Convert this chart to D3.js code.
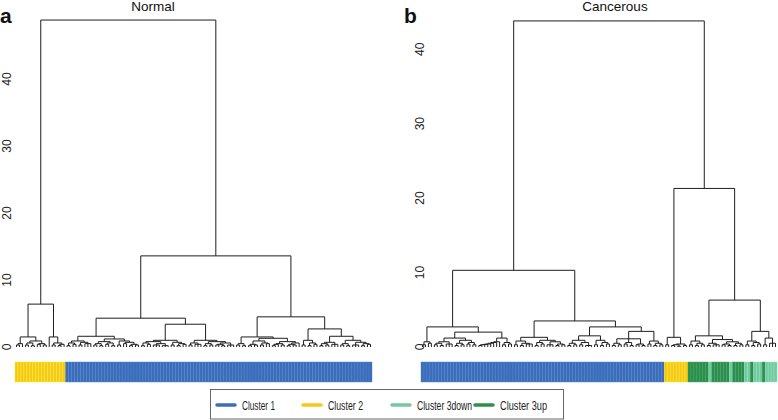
<!DOCTYPE html>
<html>
<head>
<meta charset="utf-8">
<script src="https://cdn.jsdelivr.net/npm/d3@7"></script>
<style>
body{margin:0;background:#fff;}
svg{display:block;font-family:"Liberation Sans",Arial,Helvetica,sans-serif;}
</style>
</head>
<body>
<svg width="778" height="420"></svg>
<script>
var panelTitles = ['Normal', 'Cancerous'];
var panelLetters = ['a', 'b'];
var yTicks = [0, 10, 20, 30, 40];
var legendLabels = ['Cluster 1', 'Cluster 2', 'Cluster 3down', 'Cluster 3up'];
var clusterColors = ['#3d6db6', '#f5c91c', '#76c8a0', '#2f8d4f'];

// trees: "(" children ")" merge height, "*" is one sample
var normalTree = `
(
  (
    ( ((**)0.3*)0.5
      (((**)0.3(**)0.2)0.6((**)0.4(**)0.3)0.5)0.9
    )1.5
    ( *
      ((**)0.3((**)0.2*)0.4)0.6
    )1.5
  )6.4
  (
    (
      (
        (((**)0.2(**)0.4)0.6((**)0.3(***)0.5)0.7)0.9
        (
          (((**)0.3(**)0.2)0.5((**)0.4(**)0.2)0.6)0.8
          ((**)0.3((**)0.5((**)0.2(**)0.3)0.4)0.7)0.9
        )1.2
      )1.6
      (
        (
          (((**)0.2(**)0.4)0.6((***)0.3(***)0.2)0.5)0.8
          ((**)0.3((**)0.2(**)0.4)0.5)0.7
        )1.0
        (
          ((**)0.3(***)0.4)0.6
          (((**)0.2(**)0.3)0.5(((**)0.3(**)0.2)0.4(***)0.3)0.6)0.8
        )1.0
      )3.4
    )4.3
    (
      (
        ((**)0.3(**)0.2)0.5
        (
          (((**)0.2(**)0.3)0.4((**)0.3(**)0.5)0.6)0.9
          ((((**)0.2*)0.4(**)0.3)0.5(((**)0.2(**)0.3)0.4*)0.6)0.8
        )1.3
      )1.5
      (
        ((**)0.3((**)0.2(**)0.4)0.6)1.0
        (
          (((**)0.2(**)0.3)0.5(***)0.4)0.7
          (((**)0.3(**)0.2)0.5((***)0.3((**)0.2(**)0.4)0.5)0.7)1.0
        )1.6
      )2.7
    )4.5
  )13.6
)48.8`;

var cancerTree = `
(
  (
    (
      ((**)0.3(**)0.5)0.7
      (
        (
          (((**)0.3(**)0.2)0.5(***)0.4)0.7
          (((**)0.2(**)0.3)0.5((**)0.4(**)0.3)0.6)0.9
        )1.2
        (
          (((((((**)0.2*)0.3*)0.35*)0.4*)0.5*)0.6*)0.7
          ((**)0.3(**)0.4)0.6
        )1.2
      )2.0
    )2.7
    (
      (
        ((**)0.3((**)0.2(***)0.4)0.5)0.8
        (((**)0.2(**)0.4)0.6((***)0.3((**)0.2(**)0.3)0.4)0.7)0.9
      )1.3
      (
        (
          (((**)0.2(**)0.3)0.5((**)0.3(***)0.2)0.6)0.9
          ((**)0.3((**)0.2(**)0.4)0.6)0.9
        )1.5
        (
          (((**)0.2(**)0.3)0.5((**)0.4(**)0.2)0.6((**)0.3(**)0.2)0.4)1.1
          ((**)0.4((**)0.2(**)0.3)0.5)0.8
        )2.1
      )2.7
    )3.5
  )10.3
  (
    ((**)0.3(((**)0.2(**)0.1)0.3(**)0.2)0.4)1.3
    (
      (
        ((**)0.3((**)0.2(**)0.3)0.5)0.8
        (((**)0.2(***)0.3)0.5(((**)0.3(**)0.2)0.4((**)0.2(**)0.3)0.5)0.7)1.0
      )1.5
      (
        ((**)0.3((**)0.2(**)0.4)0.6)0.8
        ((**)0.3(***)0.5)1.2
      )2.1
    )6.3
  )21.3
)43.8`;

// cluster of the samples, left to right: [cluster index, count]
var normalRuns = [[1, 17], [0, 103]];
var cancerRuns = [[0, 82], [1, 8], [3, 7], [2, 1], [3, 6], [2, 1], [3, 4], [2, 2], [3, 1], [2, 3], [3, 1], [2, 4]];

function parseTree(str) {
  var s = str.replace(/\s+/g, '');
  var i = 0;
  function node() {
    if (s[i] === '*') { i++; return {h: 0}; }
    i++;
    var kids = [];
    while (s[i] !== ')') kids.push(node());
    i++;
    var m = /^\d+(\.\d+)?/.exec(s.slice(i));
    i += m[0].length;
    return {h: +m[0], children: kids};
  }
  return node();
}

var svg = d3.select('svg');

var panels = [
  {title: panelTitles[0], letter: panelLetters[0], tree: normalTree, runs: normalRuns,
   yMax: 50, left: 15, right: 372, labelX: 11, letterX: 0, titleX: 153},
  {title: panelTitles[1], letter: panelLetters[1], tree: cancerTree, runs: cancerRuns,
   yMax: 45, left: 421, right: 777, labelX: 424, letterX: 404, titleX: 615}
];

panels.forEach(drawPanel);

function drawPanel(p) {
  var g = svg.append('g');
  var root = d3.hierarchy(parseTree(p.tree));
  var leaves = root.leaves();
  var x = d3.scaleBand().domain(d3.range(leaves.length)).range([p.left, p.right]);
  var y = d3.scaleLinear().domain([0, p.yMax]).range([347, 12]);

  leaves.forEach(function (d, i) { d.x = x(i) + x.bandwidth() / 2; });
  root.eachAfter(function (d) {
    if (d.children) d.x = (d.children[0].x + d.children[d.children.length - 1].x) / 2;
  });

  g.selectAll('path.merge')
    .data(root.descendants().filter(d => d.children))
    .join('path')
    .classed('merge', true)
    .attr('fill', 'none')
    .attr('stroke', '#1e1e1e')
    .attr('stroke-width', 1)
    .attr('d', function (d) {
      var yh = y(d.data.h);
      var s = 'M' + d.children[0].x + ',' + yh + 'H' + d.children[d.children.length - 1].x;
      d.children.forEach(function (c) {
        s += 'M' + c.x + ',' + y(c.data.h) + 'V' + yh;
      });
      return s;
    });

  // y labels, no axis line
  g.selectAll('text.tick')
    .data(yTicks)
    .join('text')
    .classed('tick', true)
    .attr('transform', d => `translate(${p.labelX},${y(d)}) rotate(-90)`)
    .attr('text-anchor', 'middle')
    .attr('font-size', 12)
    .attr('fill', '#222')
    .text(d => d);

  // colour bar under the leaves
  var clusters = [];
  p.runs.forEach(function (r) {
    for (var k = 0; k < r[1]; k++) clusters.push(r[0]);
  });
  g.selectAll('rect.bar')
    .data(clusters)
    .join('rect')
    .classed('bar', true)
    .attr('x', (d, i) => x(i))
    .attr('y', 362)
    .attr('width', x.bandwidth())
    .attr('height', 20)
    .attr('fill', d => clusterColors[d])
    .attr('stroke', d => d3.color(clusterColors[d]).brighter(0.5))
    .attr('stroke-width', 0.4);

  g.append('text')
    .attr('x', p.titleX)
    .attr('y', 11)
    .attr('text-anchor', 'middle')
    .attr('font-size', 13.5)
    .attr('fill', '#111')
    .text(p.title);

  g.append('text')
    .attr('x', p.letterX)
    .attr('y', 23)
    .attr('font-size', 21)
    .attr('font-weight', 'bold')
    .attr('fill', '#111')
    .text(p.letter);
}

// legend, text squeezed like the original narrow face
var legendX = [217, 303, 392, 475];
var legendTextW = [33, 35, 55, 47];
var lg = svg.append('g');
lg.append('rect')
  .attr('x', 210.5).attr('y', 389.5)
  .attr('width', 353).attr('height', 29.5)
  .attr('fill', '#fff')
  .attr('stroke', '#666');
var items = lg.selectAll('g.item')
  .data(legendLabels)
  .join('g')
  .attr('transform', (d, i) => `translate(${legendX[i]},405)`);
items.append('line')
  .attr('x1', 0).attr('x2', 18)
  .attr('stroke', (d, i) => clusterColors[i])
  .attr('stroke-width', 3.5)
  .attr('stroke-linecap', 'round');
items.append('text')
  .attr('x', 25)
  .attr('y', 4.5)
  .attr('font-size', 12.5)
  .attr('textLength', (d, i) => legendTextW[i])
  .attr('lengthAdjust', 'spacingAndGlyphs')
  .attr('fill', '#222')
  .text(d => d);
</script>
</body>
</html>
